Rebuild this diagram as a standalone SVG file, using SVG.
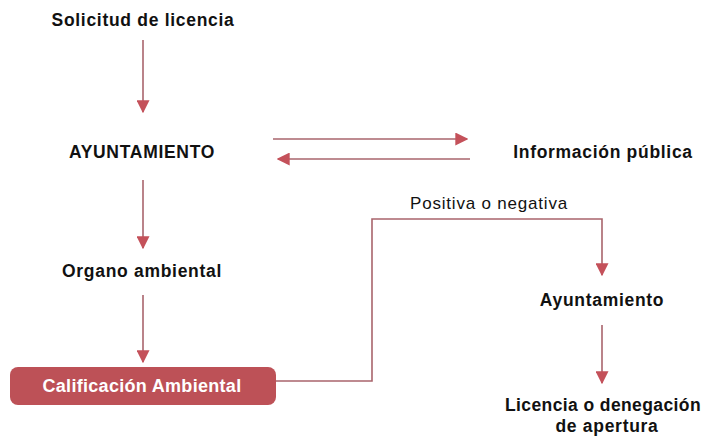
<svg xmlns="http://www.w3.org/2000/svg" width="704" height="436" viewBox="0 0 704 436">
<style>
.t{font-family:"Liberation Sans",Arial,sans-serif;font-weight:bold;font-size:17.5px;letter-spacing:0.7px;fill:#111;text-anchor:middle}
.n{font-family:"Liberation Sans",Arial,sans-serif;font-size:17px;letter-spacing:0.8px;fill:#111;text-anchor:middle}
.c{fill:none;stroke:#a9646c;stroke-width:1.6}
</style>
<defs>
<marker id="ah2" viewBox="0 0 10 10" refX="9" refY="5" markerWidth="13" markerHeight="13" markerUnits="userSpaceOnUse" orient="auto">
<path d="M0,0 L10,5 L0,10 Z" fill="#c4515a"/>
</marker>
</defs>
<g id="n1"><text class="t" x="143" y="26">Solicitud de licencia</text></g>
<g id="n2"><text class="t" x="142" y="158">AYUNTAMIENTO</text></g>
<g id="n3"><text class="t" x="603" y="158">Información pública</text></g>
<g id="n4"><text class="t" x="142" y="277">Organo ambiental</text></g>
<g id="n5"><rect x="10" y="367" width="266" height="38" rx="8" fill="#bd5157"/><text class="t" x="142" y="392" style="fill:#fff;font-size:18px;letter-spacing:0.3px">Calificación Ambiental</text></g>
<g id="n6"><text class="t" x="602" y="306">Ayuntamiento</text></g>
<g id="n7"><text class="t" x="603" y="411" style="letter-spacing:0.4px">Licencia o denegación</text><text class="t" x="607" y="432">de apertura</text></g>
<g id="connectors">
<line class="c" x1="143" y1="40" x2="143" y2="112" marker-end="url(#ah2)"/>
<line class="c" x1="143" y1="180" x2="143" y2="248" marker-end="url(#ah2)"/>
<line class="c" x1="143" y1="295" x2="143" y2="362" marker-end="url(#ah2)"/>
<line class="c" x1="273" y1="139" x2="467" y2="139" marker-end="url(#ah2)"/>
<line class="c" x1="470" y1="159" x2="278" y2="159" marker-end="url(#ah2)"/>
<polyline class="c" points="276,381 372,381 372,219 602,219 602,275" marker-end="url(#ah2)"/>
<line class="c" x1="602" y1="325" x2="602" y2="383" marker-end="url(#ah2)"/>
<text class="n" x="489" y="209">Positiva o negativa</text>
</g>
</svg>
